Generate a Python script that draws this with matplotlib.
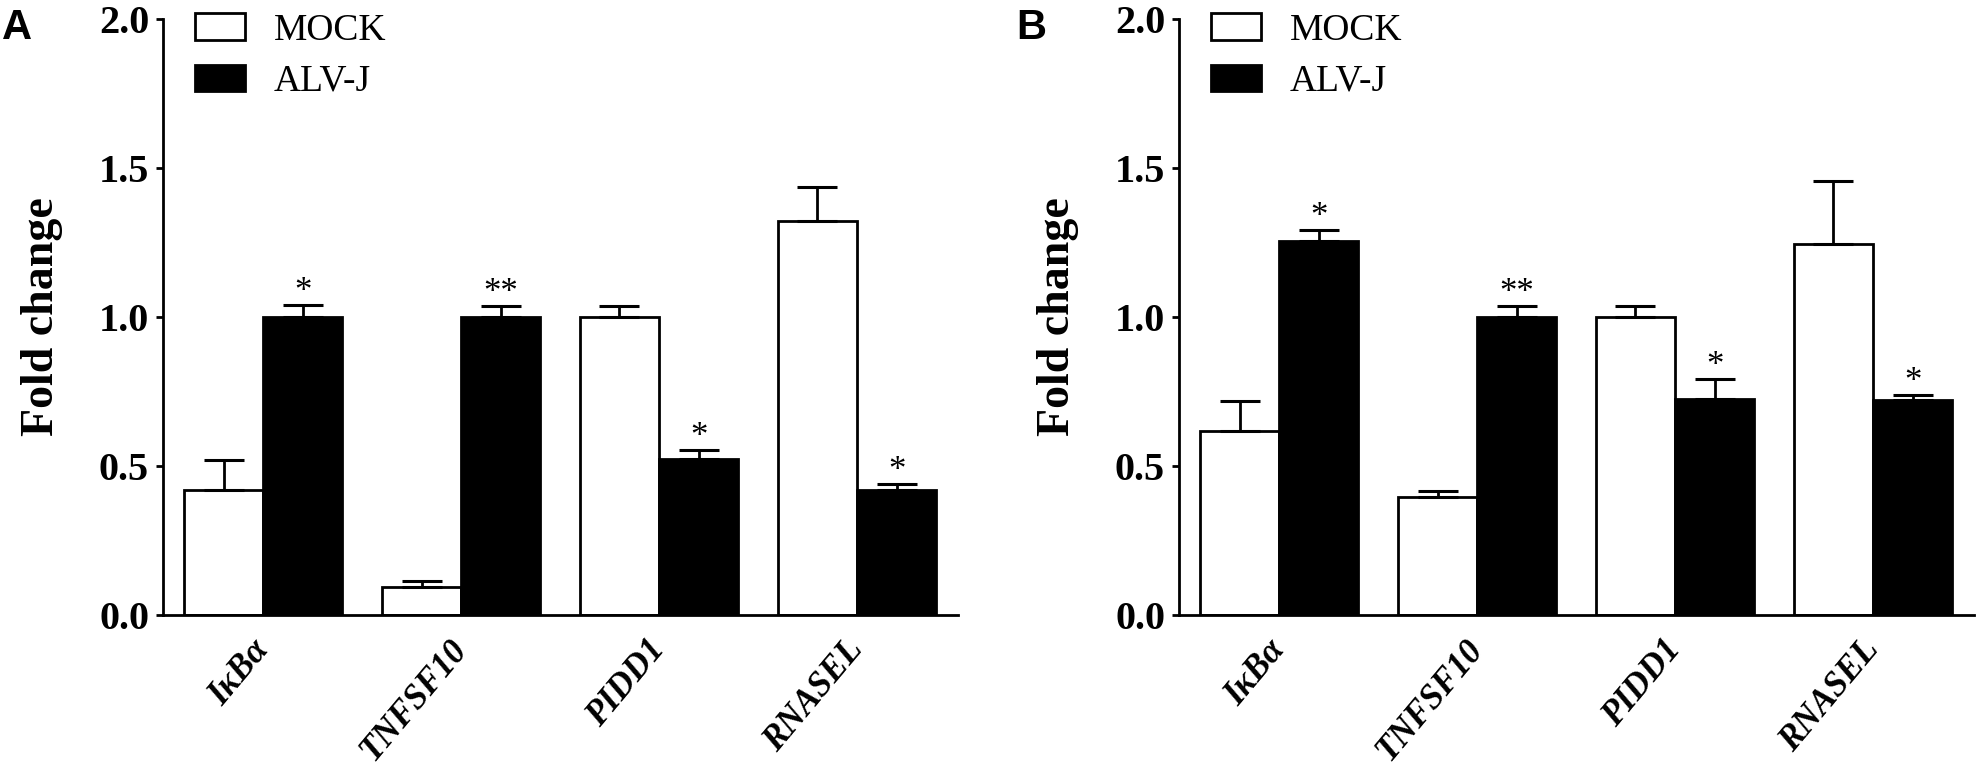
import matplotlib.pyplot as plt
from matplotlib.patches import Patch
import numpy as np

# genes and fold-change values
genes = ['IκBα', 'TNFSF10', 'PIDD1', 'RNASEL']

a_mock = [0.42, 0.094, 1.0, 1.322]
a_mock_err = [0.10, 0.02, 0.037, 0.114]
a_alv = [1.0, 1.0, 0.525, 0.42]
a_alv_err = [0.04, 0.038, 0.029, 0.02]
a_stars = ['*', '**', '*', '*']

b_mock = [0.617, 0.396, 1.0, 1.244]
b_mock_err = [0.10, 0.02, 0.037, 0.214]
b_alv = [1.255, 1.0, 0.726, 0.723]
b_alv_err = [0.037, 0.038, 0.066, 0.016]
b_stars = ['*', '**', '*', '*']

serif = 'Liberation Serif'

fig = plt.figure(figsize=(19.77, 7.75), dpi=100)
axA = fig.add_axes([163 / 1977, 160 / 775, 795 / 1977, 596 / 775])
axB = fig.add_axes([1179 / 1977, 160 / 775, 795 / 1977, 596 / 775])


def draw_panel(ax, mock, mock_err, alv, alv_err, stars, letter):
    x = np.arange(len(genes))
    w = 0.4
    ekw = dict(elinewidth=2, capthick=2.2, capsize=14.5, ecolor='black')
    ax.bar(x - w / 2, mock, w, color='white', edgecolor='black', linewidth=2,
           yerr=[np.zeros(len(mock)), mock_err], error_kw=ekw, zorder=2)
    ax.bar(x + w / 2, alv, w, color='black', edgecolor='black', linewidth=2,
           yerr=[np.zeros(len(alv)), alv_err], error_kw=ekw, zorder=2)
    for i in range(len(genes)):
        ax.annotate(stars[i], (x[i] + w / 2, alv[i] + alv_err[i]),
                    xytext=(0, 3), textcoords='offset points',
                    ha='center', va='baseline', fontsize=25, family=serif)

    ax.set_xlim(-0.506, 3.51)
    ax.set_ylim(0, 2.0)
    ax.set_yticks([0, 0.5, 1.0, 1.5, 2.0])
    ax.set_yticklabels(['0.0', '0.5', '1.0', '1.5', '2.0'],
                       fontsize=29, fontweight='bold', family=serif)
    ax.set_xticks(x)
    ax.set_xticklabels(genes, rotation=50, ha='right', va='center',
                       rotation_mode='anchor', fontsize=25,
                       fontweight='bold', fontstyle='italic', family=serif)
    ax.tick_params(axis='x', length=0, pad=21)
    ax.tick_params(axis='y', length=5, width=2, pad=5, direction='out')
    for s in ['top', 'right']:
        ax.spines[s].set_visible(False)
    for s in ['left', 'bottom']:
        ax.spines[s].set_linewidth(2)
    ax.set_ylabel('Fold change', fontsize=33, fontweight='bold',
                  family=serif, labelpad=26)

    handles = [Patch(facecolor='white', edgecolor='black', linewidth=2, label='MOCK'),
               Patch(facecolor='black', edgecolor='black', linewidth=2, label='ALV-J')]
    ax.legend(handles=handles, loc='upper left', bbox_to_anchor=(0.04, 1.01),
              frameon=False, prop={'family': serif, 'size': 27},
              handlelength=1.35, handleheight=0.7, handletextpad=0.75,
              labelspacing=0.45, borderpad=0, borderaxespad=0)

    bb = ax.get_position()
    fig.text(bb.x0 - (161 if letter == 'A' else 163) / 1977, 0.99, letter,
             fontsize=30, fontweight='bold', family='Liberation Sans',
             ha='left', va='top')


draw_panel(axA, a_mock, a_mock_err, a_alv, a_alv_err, a_stars, 'A')
draw_panel(axB, b_mock, b_mock_err, b_alv, b_alv_err, b_stars, 'B')

fig.savefig('out.png', dpi=100)
